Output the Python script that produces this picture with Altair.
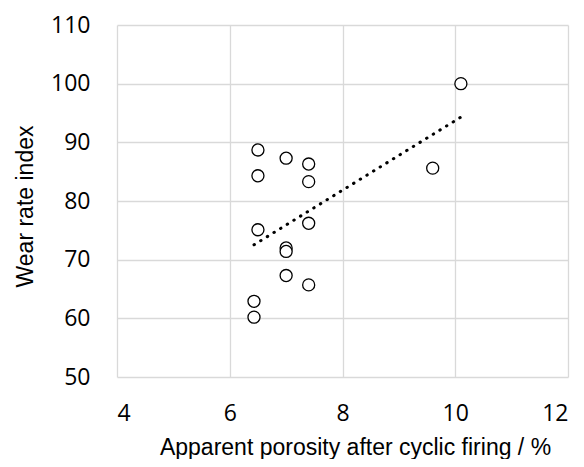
import altair as alt
import pandas as pd

porosity = [6.5, 7.0, 6.5, 7.4, 7.4, 9.6, 10.1, 7.4, 6.5, 7.0, 7.0, 7.0, 7.4, 6.43, 6.43]
wear = [88.7, 87.3, 84.3, 86.3, 83.3, 85.6, 100.0, 76.2, 75.1, 72.0, 71.4, 67.3, 65.7, 62.9, 60.2]
x_ticks = [4, 6, 8, 10, 12]
y_ticks = [50, 60, 70, 80, 90, 100, 110]

df = pd.DataFrame({"x": porosity, "y": wear})

common_axis = dict(
    grid=True, gridColor="#d9d9d9", gridWidth=1.3, domain=False, ticks=False,
    labelFont="Open Sans", labelFontSize=23, labelColor="#000000",
    titleFont="Liberation Sans", titleFontSize=23, titleFontWeight="normal",
    titleColor="#000000", titleBaseline="alphabetic", titleAlign="center",
)

x_enc = alt.X(
    "x:Q",
    scale=alt.Scale(domain=[4, 12], nice=False, zero=False),
    axis=alt.Axis(values=x_ticks, title="Apparent porosity after cyclic firing / %",
                  titleX=238, titleY=77, labelPadding=25, **common_axis),
)
y_enc = alt.Y(
    "y:Q",
    scale=alt.Scale(domain=[50, 110], nice=False, zero=False),
    axis=alt.Axis(values=y_ticks, title="Wear rate index",
                  titleX=-85, titleY=181, labelPadding=27, **common_axis),
)

base = alt.Chart(df)

trend = base.transform_regression("x", "y", method="linear").mark_line(
    color="#000000", strokeWidth=3, strokeDash=[0.5, 7.3], strokeCap="round"
).encode(x=x_enc, y=y_enc)

points = base.mark_point(
    shape="circle", size=145, filled=True, fill="#ffffff", stroke="#000000",
    strokeWidth=1.3, opacity=1
).encode(x=x_enc, y=y_enc)

chart = alt.layer(trend, points).properties(
    width=451, height=352,
    autosize=alt.AutoSizeParams(type="none"),
    padding={"left": 109, "top": 17, "right": 8, "bottom": 82},
).configure_view(stroke=None)

chart.save("out.html", embed_options={"renderer": "svg", "actions": False})
